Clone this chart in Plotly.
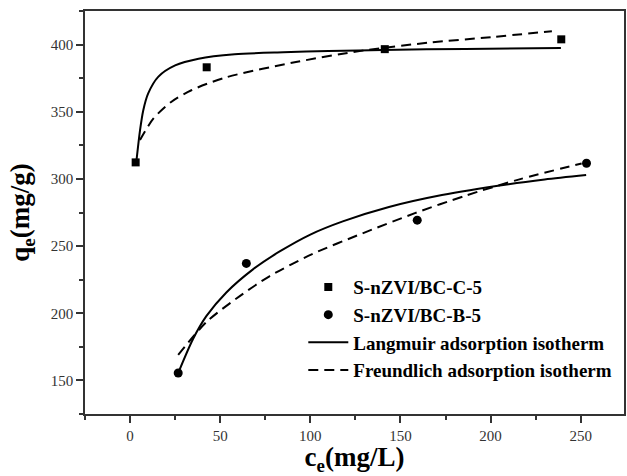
import plotly.graph_objects as go

# Experimental data
c_C5 = [3.1, 42.5, 141.3, 239.2]
q_C5 = [312.3, 383.1, 396.6, 403.9]
c_B5 = [26.7, 64.5, 159.3, 253.2]
q_B5 = [155.5, 237.1, 269.3, 311.7]

# Fitted curves
lang_C_x = [3.5, 5.5, 7.3, 10.0, 15.6, 25.0, 38.0, 58.0, 85.0, 110.0, 140.0, 186.0, 239.0]
lang_C_y = [313.0, 336.0, 351.0, 363.5, 376.0, 384.5, 389.5, 392.8, 394.3, 395.2, 396.0, 396.8, 397.5]
freu_C_x = [5.5, 13.0, 23.0, 34.0, 53.0, 92.0, 129.0, 166.0, 200.0, 234.0]
freu_C_y = [329.0, 345.0, 357.5, 366.0, 375.5, 387.0, 395.5, 401.5, 405.5, 410.0]
lang_B_x = [26.7, 35.0, 42.4, 53.4, 68.0, 83.0, 100.0, 118.0, 143.6, 173.0, 210.0, 230.0, 253.0]
lang_B_y = [155.5, 181.0, 198.0, 215.5, 232.5, 246.0, 258.6, 268.4, 279.1, 288.0, 296.1, 299.6, 302.9]
freu_B_x = [26.7, 42.4, 59.0, 77.3, 101.0, 129.0, 158.0, 186.0, 215.5, 250.5]
freu_B_y = [169.0, 193.5, 211.0, 227.5, 244.0, 259.5, 274.5, 287.5, 299.5, 311.5]

x_ticks = [0, 50, 100, 150, 200, 250]
y_ticks = [150, 200, 250, 300, 350, 400]

FONT = "Liberation Serif"
DASH = "10px,6px"

fig = go.Figure()
fig.add_trace(go.Scatter(x=c_C5, y=q_C5, mode="markers", name="<b>S-nZVI/BC-C-5</b>", legendgroup="a",
                         marker=dict(symbol="square", size=8, color="black")))
fig.add_trace(go.Scatter(x=c_B5, y=q_B5, mode="markers", name="<b>S-nZVI/BC-B-5</b>", legendgroup="b",
                         marker=dict(symbol="circle", size=9, color="black")))
fig.add_trace(go.Scatter(x=lang_C_x, y=lang_C_y, mode="lines", name="<b>Langmuir adsorption isotherm</b>",
                         legendgroup="c",
                         line=dict(color="black", width=2, shape="spline", smoothing=0.8)))
fig.add_trace(go.Scatter(x=freu_C_x, y=freu_C_y, mode="lines", name="<b>Freundlich adsorption isotherm</b>",
                         legendgroup="d",
                         line=dict(color="black", width=2, dash=DASH, shape="spline", smoothing=0.8)))
fig.add_trace(go.Scatter(x=lang_B_x, y=lang_B_y, mode="lines", showlegend=False, legendgroup="c",
                         line=dict(color="black", width=2, shape="spline", smoothing=0.8)))
fig.add_trace(go.Scatter(x=freu_B_x, y=freu_B_y, mode="lines", showlegend=False, legendgroup="d",
                         line=dict(color="black", width=2, dash=DASH, shape="spline", smoothing=0.8)))

axis_common = dict(showgrid=False, zeroline=False, showline=True, linecolor="#333",
                   linewidth=1.5, mirror=True, ticks="outside", ticklen=7, tickwidth=1.5,
                   tickcolor="#333", tickfont=dict(family=FONT, size=15, color="#333"),
                   minor=dict(ticks="outside", ticklen=4, tickwidth=1.5, tickcolor="#333"))

fig.update_xaxes(range=[-25, 274], tickvals=x_ticks, minor_dtick=25,
                 title=dict(text="<b>c<sub>e</sub>(mg/L)</b>", font=dict(family=FONT, size=27, color="black"),
                            standoff=2),
                 **axis_common)
fig.update_yaxes(range=[125, 425], tickvals=y_ticks, minor_dtick=25,
                 title=dict(text="<b>q<sub>e</sub>(mg/g)</b>", font=dict(family=FONT, size=27, color="black"),
                            standoff=13),
                 **axis_common)

fig.update_layout(
    width=627, height=476,
    margin=dict(l=85, r=1, t=11, b=62),
    paper_bgcolor="white", plot_bgcolor="white",
    showlegend=True,
    legend=dict(x=0.405, y=0.362, xanchor="left", yanchor="top",
                font=dict(family=FONT, size=19, color="black"),
                bgcolor="rgba(0,0,0,0)", borderwidth=0, itemwidth=40,
                traceorder="grouped", tracegroupgap=0),
)

fig.write_html("out.html")
